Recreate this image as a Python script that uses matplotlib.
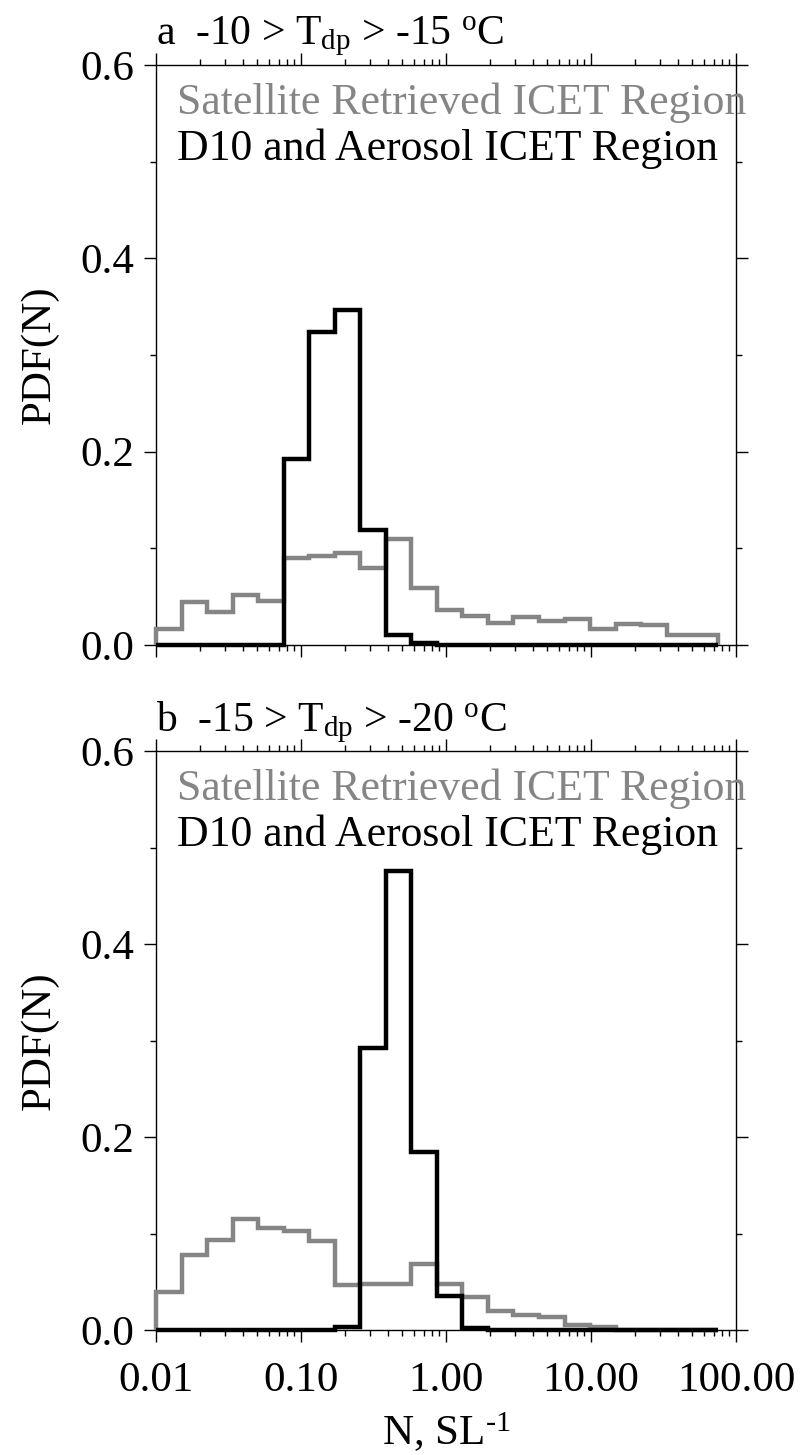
import numpy as np
import matplotlib
matplotlib.use('Agg')
import matplotlib.pyplot as plt
from matplotlib.ticker import FixedLocator, LogLocator, NullFormatter

plt.rcParams['font.family'] = ['Liberation Serif', 'DejaVu Serif']
plt.rcParams['mathtext.fontset'] = 'custom'
plt.rcParams['mathtext.rm'] = 'Liberation Serif'
plt.rcParams['mathtext.it'] = 'Liberation Serif:italic'

# log-spaced bins (ratio 1.5) from 0.01 up to ~75 per litre
bin_edges = [0.0100, 0.0150, 0.0225, 0.0338, 0.0506, 0.0759, 0.1139, 0.1709,
             0.2563, 0.3844, 0.5767, 0.8650, 1.2975, 1.9462, 2.9193, 4.3789,
             6.5684, 9.8526, 14.7789, 22.1684, 33.2526, 49.8789, 74.8183]

# panel a: -10 > Tdp > -15 C
sat_a = [0.017, 0.045, 0.034, 0.052, 0.046, 0.090, 0.092, 0.095, 0.080, 0.110, 0.059,
         0.036, 0.030, 0.023, 0.029, 0.025, 0.027, 0.017, 0.022, 0.021, 0.010, 0.010]
d10_a = [0.0, 0.0, 0.0, 0.0, 0.0, 0.1925, 0.3235, 0.347, 0.119, 0.010, 0.002,
         0.0, 0.0, 0.0, 0.0, 0.0, 0.0, 0.0, 0.0, 0.0, 0.0, 0.0]

# panel b: -15 > Tdp > -20 C
sat_b = [0.039, 0.078, 0.093, 0.115, 0.106, 0.103, 0.092, 0.047, 0.048, 0.048, 0.068,
         0.048, 0.034, 0.020, 0.016, 0.013, 0.005, 0.003, 0.0, 0.0, 0.0, 0.0]
d10_b = [0.0, 0.0, 0.0, 0.0, 0.0, 0.0, 0.0, 0.003, 0.2925, 0.4755, 0.184,
         0.035, 0.002, 0.0, 0.0, 0.0, 0.0, 0.0, 0.0, 0.0, 0.0, 0.0]

xticks = [0.01, 0.1, 1.0, 10.0, 100.0]
xticklabels = ['0.01', '0.10', '1.00', '10.00', '100.00']
yticks = [0.0, 0.2, 0.4, 0.6]
yticklabels = ['0.0', '0.2', '0.4', '0.6']
panel_titles = [r'a  -10 > T$_{\rm dp}$ > -15 $^{\rm o}$C',
                r'b  -15 > T$_{\rm dp}$ > -20 $^{\rm o}$C']
sat_label = 'Satellite Retrieved ICET Region'
d10_label = 'D10 and Aerosol ICET Region'

GRAY = '#858585'
FS = 31


def setup_axes(ax, show_xlabels):
    ax.set_xscale('log')
    ax.set_xlim(0.01, 100)
    ax.set_ylim(0, 0.6)
    ax.xaxis.set_major_locator(FixedLocator(xticks))
    ax.xaxis.set_minor_locator(LogLocator(base=10, subs=np.arange(2, 10)))
    ax.xaxis.set_minor_formatter(NullFormatter())
    if show_xlabels:
        ax.set_xticklabels(xticklabels)
    else:
        ax.set_xticklabels([])
    ax.set_yticks(yticks)
    ax.set_yticklabels(yticklabels)
    ax.yaxis.set_minor_locator(FixedLocator([0.1, 0.3, 0.5]))
    ax.tick_params(which='both', direction='out', top=True, right=True,
                   width=1.0, labelsize=FS)
    ax.tick_params(which='major', length=8.5)
    ax.tick_params(which='minor', length=4)
    ax.tick_params(axis='y', pad=7)
    ax.tick_params(axis='x', pad=14)
    for sp in ax.spines.values():
        sp.set_linewidth(1.0)
    ax.set_ylabel('PDF(N)', fontsize=FS, labelpad=16)


fig = plt.figure(figsize=(8.03, 14.55), dpi=100)
ax_a = fig.add_axes([0.1943, 0.5567, 0.7223, 0.3986])
ax_b = fig.add_axes([0.1943, 0.0859, 0.7223, 0.3979])

for ax, sat, d10, title, show in [(ax_a, sat_a, d10_a, panel_titles[0], False),
                                  (ax_b, sat_b, d10_b, panel_titles[1], True)]:
    setup_axes(ax, show)
    ax.stairs(sat, bin_edges, color=GRAY, linewidth=3.2, clip_on=False, zorder=3)
    ax.stairs(d10, bin_edges, color='black', linewidth=3.2, clip_on=False, zorder=4)
    ax.text(0.0, 1.035, title, transform=ax.transAxes, fontsize=30,
            ha='left', va='baseline')
    ax.text(0.036, 0.9155, sat_label, transform=ax.transAxes, fontsize=31.5,
            color=GRAY, ha='left', va='baseline')
    ax.text(0.036, 0.836, d10_label, transform=ax.transAxes, fontsize=31.5,
            color='black', ha='left', va='baseline')

ax_b.set_xlabel(r'N, SL$^{\text{-}1}$', fontsize=FS, labelpad=8)

fig.savefig('out.png', dpi=100)
